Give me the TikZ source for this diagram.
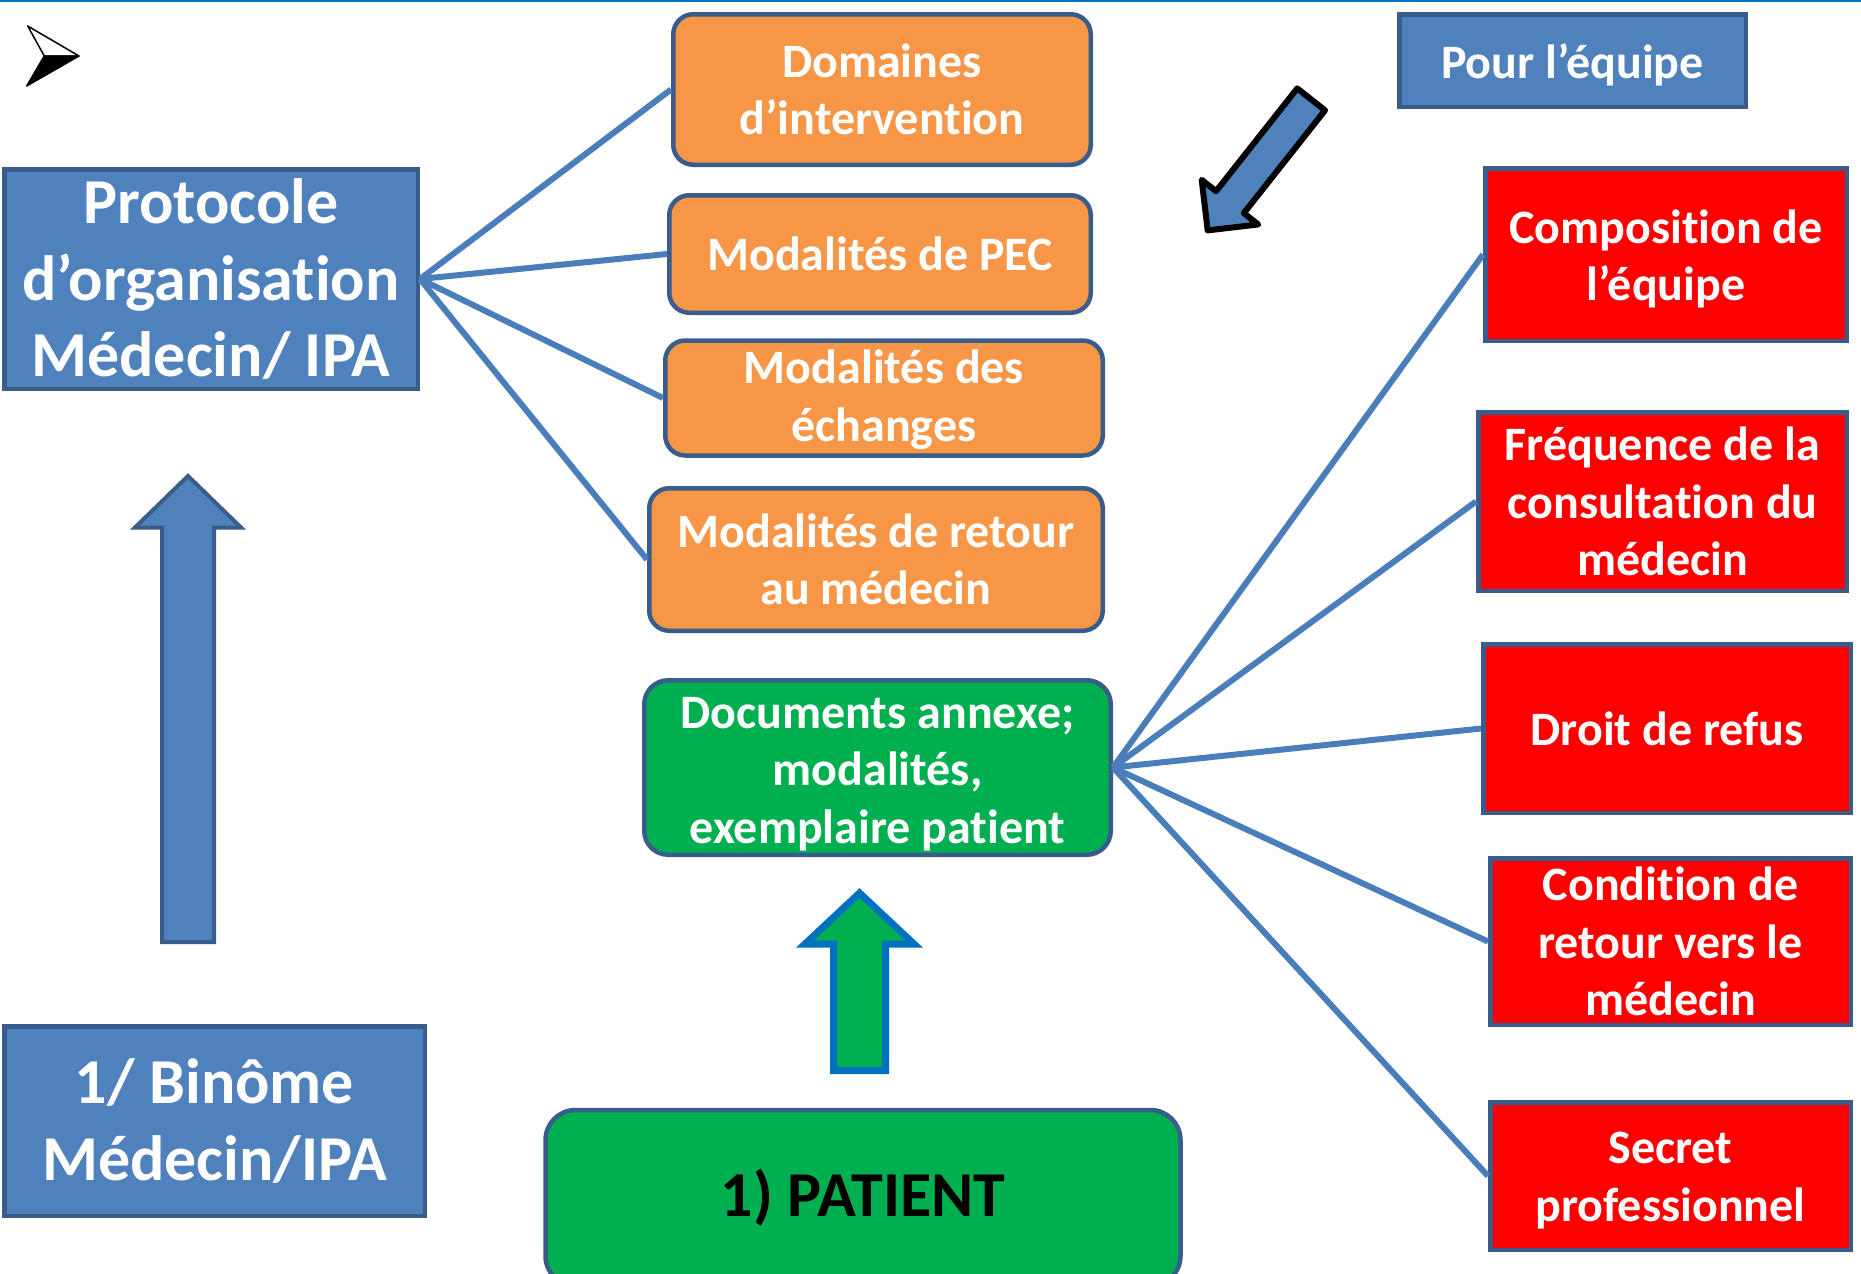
\documentclass[tikz,border=0pt]{standalone}
\usepackage{fontspec}
\setmainfont{Carlito}[Ligatures=NoCommon]
\usepackage{tikz}
\usetikzlibrary{arrows}
\usepackage{xcolor}

\definecolor{pptblue}{HTML}{4F81BD}
\definecolor{pptedge}{HTML}{385D8A}
\definecolor{pptorange}{HTML}{F79646}
\definecolor{pptgreen}{HTML}{00B050}
\definecolor{pptred}{HTML}{FF0000}
\definecolor{linkblue}{HTML}{4A7EBB}
\definecolor{ruleblue}{HTML}{0070C0}
\newcommand{\bigtxt}{\fontsize{64}{76.5}\selectfont\bfseries}
\newcommand{\midtxt}{\fontsize{48}{57.5}\selectfont\bfseries}
\newcommand{\pattxt}{\fontsize{64}{76}\selectfont\bfseries}
\newcommand{\lowtxt}[2]{\raisebox{-#1}[\height][\depth]{\begin{tabular}{@{}c@{}}#2\end{tabular}}}

\begin{document}
\begin{tikzpicture}[x=1pt,y=-1pt,thick]
\tikzstyle{box}=[draw=pptedge,line width=4.5pt,inner sep=0pt,align=center,text=white,font=\midtxt]
\tikzstyle{bluebox}=[box,fill=pptblue]
\tikzstyle{orangebox}=[box,fill=pptorange,rounded corners=20pt]
\tikzstyle{greenbox}=[box,fill=pptgreen,rounded corners=24pt]
\tikzstyle{redbox}=[box,fill=pptred]
\tikzstyle{link}=[draw=linkblue,line width=6pt]
\tikzstyle{fatarrow}=[draw=pptedge,fill=pptblue,line width=4pt]
  \clip (0,0) rectangle (1861,1274);
  \draw[ruleblue,line width=2pt] (0,1) -- (1861,1);
  % bullet mark top left
  \filldraw[fill=white,draw=black,line width=1.5pt,line join=round] (27.7,26) -- (79,56) -- (44.3,56) -- cycle;
  \filldraw[black,line width=1.5pt,line join=round] (44.3,56) -- (79,56) -- (26.7,86) -- cycle;
  % left column
  \node[bluebox,font=\bigtxt,minimum width=413.5pt,minimum height=219.5pt] (proto) at (211,279) {Protocole\\d’organisation\\Médecin/ IPA};
  \node[bluebox,font=\bigtxt,minimum width=420.5pt,minimum height=189.5pt] (binome) at (214.5,1121) {1/ Binôme\\Médecin/IPA};
  \draw[fatarrow] (162,942) -- (162,527.5) -- (135,527.5) -- (188,476) -- (241,527.5) -- (214,527.5) -- (214,942) -- cycle;
  % middle column
  \node[orangebox,minimum width=417.5pt,minimum height=150.5pt] (dom) at (882,89.5) {Domaines\\d’intervention};
  \node[orangebox,minimum width=421.5pt,minimum height=117.5pt] (pec) at (880,254) {Modalités de PEC};
  \node[orangebox,minimum width=437.5pt,minimum height=109.5pt] (ech) at (884,398) {\lowtxt{3pt}{Modalités des\\échanges}};
  \node[orangebox,minimum width=453.5pt,minimum height=142.5pt] (ret) at (876,559.5) {Modalités de retour\\au médecin};
  \node[greenbox,minimum width=466.5pt,minimum height=174.5pt] (doc) at (877.5,767.5) {\lowtxt{6.5pt}{Documents annexe;\\modalités,\\exemplaire patient}};
  \node[greenbox,text=black,font=\pattxt,rounded corners=30pt,minimum width=635pt,minimum height=176pt] (pat) at (863,1198) {1) PATIENT};
  \draw[draw=ruleblue,fill=pptgreen,line width=7pt] (833.5,1070.5) -- (833.5,944) -- (805,944) -- (859.5,893) -- (914,944) -- (885.5,944) -- (885.5,1070.5) -- cycle;
  % right column
  \node[bluebox,minimum width=346.5pt,minimum height=92.5pt] (pour) at (1572.5,60.5) {\lowtxt{6pt}{Pour l’équipe}};
  \begin{scope}[shift={(1313,97)},rotate=231.7]
    \draw[draw=black,fill=pptblue,line width=6pt,line join=round] (3,-17.7) -- (134,-17.7) -- (134,-36) -- (170,0) -- (134,36) -- (134,17.7) -- (3,17.7) -- cycle;
  \end{scope}
  \node[redbox,minimum width=361.5pt,minimum height=172.5pt] (comp) at (1666,254.5) {\lowtxt{6pt}{Composition de\\l’équipe}};
  \node[redbox,minimum width=368.5pt,minimum height=178.5pt] (freq) at (1662.5,501.5) {Fréquence de la\\consultation du\\médecin};
  \node[redbox,minimum width=367.5pt,minimum height=168.5pt] (droit) at (1667,728.5) {Droit de refus};
  \node[redbox,minimum width=360.5pt,minimum height=166.5pt] (cond) at (1670.5,941.5) {Condition de\\retour vers le\\médecin};
  \node[redbox,minimum width=360.5pt,minimum height=147.5pt] (secret) at (1670.5,1176) {\lowtxt{5pt}{Secret\\professionnel}};
  % links
  \draw[link] (proto.east) -- (dom.west);
  \draw[link] (proto.east) -- (pec.west);
  \draw[link] (proto.east) -- (ech.west);
  \draw[link] (proto.east) -- (ret.west);
  \draw[link] (doc.east) -- (comp.west);
  \draw[link] (doc.east) -- (freq.west);
  \draw[link] (doc.east) -- (droit.west);
  \draw[link] (doc.east) -- (cond.west);
  \draw[link] (doc.east) -- (secret.west);
\end{tikzpicture}
\end{document}
